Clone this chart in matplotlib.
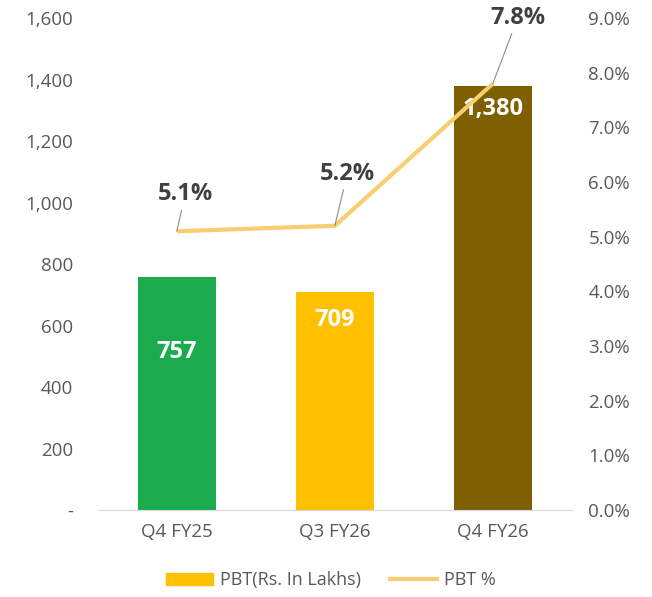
import matplotlib.pyplot as plt
from matplotlib.ticker import FuncFormatter
from matplotlib.patches import Patch
from matplotlib.lines import Line2D

plt.rcParams['font.family'] = ['Open Sans', 'DejaVu Sans']

quarters = ["Q4 FY25", "Q3 FY26", "Q4 FY26"]
pbt = [757, 709, 1380]
pbt_pct = [5.1, 5.2, 7.8]
bar_colors = ["#1AAB4F", "#FFC000", "#7F6000"]

# label offsets in points: % callouts (dx, dy), value labels below bar top
pct_offsets = [(6, 18), (9, 29), (18, 39)]
bar_label_drop = [54, 20, 17]

fig = plt.figure(figsize=(6.52, 5.97), dpi=100)
ax = fig.add_axes([0.150, 0.1457, 0.727, 0.824])
x = range(len(quarters))

bars = ax.bar(x, pbt, width=0.49, color=bar_colors, zorder=2)
ax.set_xlim(-0.5, 2.5)
ax.set_ylim(0, 1600)
ax.set_yticks(range(0, 1601, 200))
ax.yaxis.set_major_formatter(FuncFormatter(lambda v, p: "-" if v == 0 else f"{int(v):,}"))
ax.set_xticks(list(x))
ax.set_xticklabels(quarters)
for s in ["top", "right", "left"]:
    ax.spines[s].set_visible(False)
ax.spines["bottom"].set_color("#D9D9D9")
ax.tick_params(length=0, labelsize=13.5, colors="#595959")
ax.tick_params(axis="y", pad=18)
ax.tick_params(axis="x", pad=9)

for b, v, d in zip(bars, pbt, bar_label_drop):
    ax.annotate(f"{v:,}", xy=(b.get_x() + b.get_width() / 2, v), xytext=(0, -d),
                textcoords="offset points", ha="center", va="center", color="white",
                fontsize=17, fontweight="bold", zorder=5)

ax2 = ax.twinx()
ax2.set_ylim(0, 9)
ax2.set_yticks(range(0, 10))
ax2.yaxis.set_major_formatter(FuncFormatter(lambda v, p: f"{v:.1f}%"))
for s in ["top", "right", "left", "bottom"]:
    ax2.spines[s].set_visible(False)
ax2.tick_params(length=0, labelsize=13.5, colors="#595959", pad=12)
line, = ax2.plot(list(x), pbt_pct, color="#F9CD72", lw=3, solid_capstyle="butt", zorder=3)

for xi, v, (dx, dy) in zip(x, pbt_pct, pct_offsets):
    ax2.annotate(f"{v:.1f}%", xy=(xi, v), xytext=(dx, dy), textcoords="offset points",
                 ha="center", va="bottom", fontsize=17, fontweight="bold", color="#404040",
                 arrowprops=dict(arrowstyle="-", color="#8C8C8C", lw=0.8,
                                 shrinkA=1, shrinkB=0))

handles = [Patch(color="#FFC000"), Line2D([0], [0], color="#F9CD72", lw=3)]
fig.legend(handles, ["PBT(Rs. In Lakhs)", "PBT %"], loc="center", bbox_to_anchor=(0.507, 0.028),
           ncol=2, frameon=False, fontsize=13, labelcolor="#595959",
           handlelength=2.6, handleheight=0.7, columnspacing=1.6, handletextpad=0.4)

fig.savefig("out.png", dpi=100)
